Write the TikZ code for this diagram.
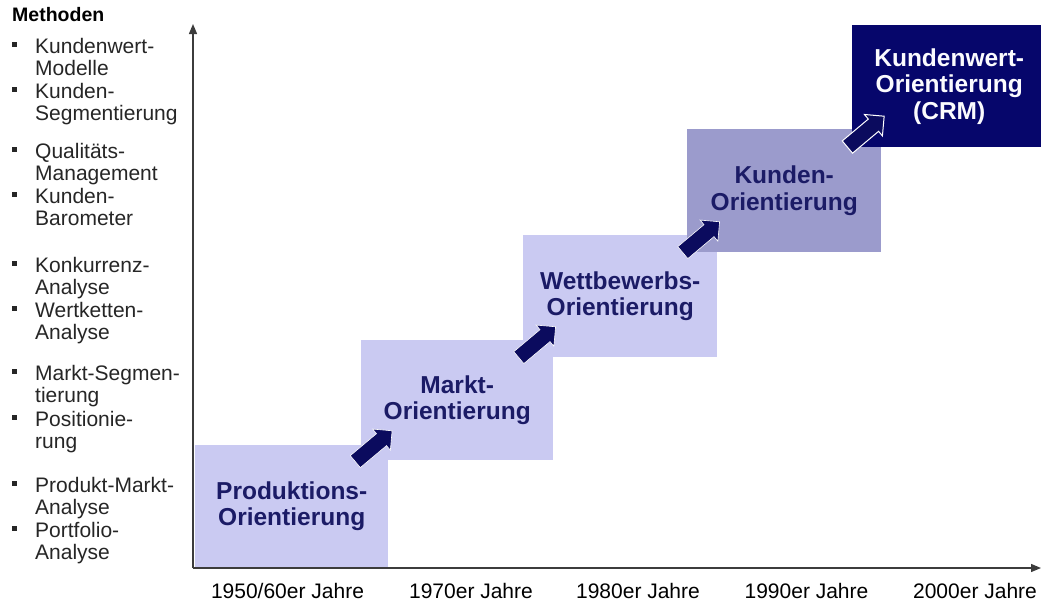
\documentclass[tikz,border=0pt]{standalone}
\usepackage{fontspec}
\setmainfont{Liberation Sans}
\usetikzlibrary{arrows.meta,shapes.arrows,calc}
\definecolor{lav}{HTML}{CACAF2}
\definecolor{lavdark}{HTML}{9B9BCC}
\definecolor{navy}{HTML}{06066B}
\definecolor{boxtext}{HTML}{1B1B66}
\definecolor{arrowblue}{HTML}{0B0B5E}
\definecolor{axisgray}{HTML}{3C3C3C}
\definecolor{listtext}{HTML}{262626}

\begin{document}
\begin{tikzpicture}[x=1pt,y=-1pt,
  stage/.style={anchor=north west, inner sep=0pt, align=center,
    font=\fontsize{24.5}{26.5}\selectfont\bfseries, text=boxtext, fill=lav},
  stepper/.style={single arrow, fill=arrowblue, draw=white, line width=0.6pt,
    rotate=40, minimum height=48pt, inner xsep=0pt, inner ysep=7.5pt,
    single arrow head extend=6pt},
  axis/.style={draw=axisgray, line width=1.3pt, -{Triangle[length=10pt,width=8pt]}},
  item/.style={anchor=base west, inner sep=0pt, align=left, text=listtext,
    font=\fontsize{21}{22.5}\selectfont},
  bullet/.style={fill=listtext, minimum size=5pt, inner sep=0pt},
  period/.style={anchor=base, inner sep=0pt, text=black,
    font=\fontsize{21}{22}\selectfont}
]
\useasboundingbox (0,0) rectangle (1041,605);
\fill[white] (0,0) rectangle (1041,605);

% stages of the development, stepping up to the right
\node[stage, minimum width=193pt, minimum height=122pt] (p) at (195,445)
  {Produktions-\\Orientierung};
\node[stage, minimum width=192pt, minimum height=120pt] (m) at (361,340)
  {Markt-\\Orientierung};
\node[stage, minimum width=194pt, minimum height=122pt] (w) at (523,235)
  {Wettbewerbs-\\Orientierung};
\node[stage, fill=lavdark, minimum width=194pt, minimum height=123pt] (k) at (687,129)
  {Kunden-\\Orientierung};
\node[stage, fill=navy, text=white!92!lav, minimum width=194pt, minimum height=122pt] (c) at (852,25)
  {Kundenwert-\\Orientierung\\(CRM)};

% block arrows between neighbouring stages
\node[stepper] (a1) at ($(p.north east)!0.5!(m.south west)+(-4,-4)$) {};
\node[stepper] (a2) at ($(m.north east)!0.5!(w.south west)+(-4,-4)$) {};
\node[stepper] (a3) at ($(w.north east)!0.5!(k.south west)+(-4,-4)$) {};
\node[stepper, line width=1pt] (a4) at ($(k.north east)!0.5!(c.south west)+(-4,-4)$) {};

% axes
\coordinate (o) at (193,568);
\coordinate (ytop) at (193,24);
\coordinate (xend) at (1041,568);
\draw[axis] (o) -- (ytop);
\draw[axis] (o) -- (xend);

% time line labels
\node[period] (t1) at (287.5,598) {1950/60er Jahre};
\node[period] (t2) at (471,598) {1970er Jahre};
\node[period] (t3) at (638,598) {1980er Jahre};
\node[period] (t4) at (806.5,598) {1990er Jahre};
\node[period] (t5) at (975,598) {2000er Jahre};

% list of methods (each entry: baseline of its first line)
\node[anchor=base west, inner sep=0pt, font=\fontsize{19.5}{20}\selectfont\bfseries] (head) at (12,21.7) {Methoden};
\foreach \b/\txt [count=\i] in {
  53/{Kundenwert-\\Modelle},
  98/{Kunden-\\Segmentierung},
  158/{Qualitäts-\\Management},
  203/{Kunden-\\Barometer},
  272/{Konkurrenz-\\Analyse},
  317/{Wertketten-\\Analyse},
  380/{Markt-Segmen-\\tierung},
  426/{Positionie-\\rung},
  492/{Produkt-Markt-\\Analyse},
  537/{Portfolio-\\Analyse}} {
  \node[item] (li\i) at (35,\b+22.5) {\txt};
  \node[bullet] (bu\i) at (14.5,\b-8.5) {};
}
\end{tikzpicture}
\end{document}
